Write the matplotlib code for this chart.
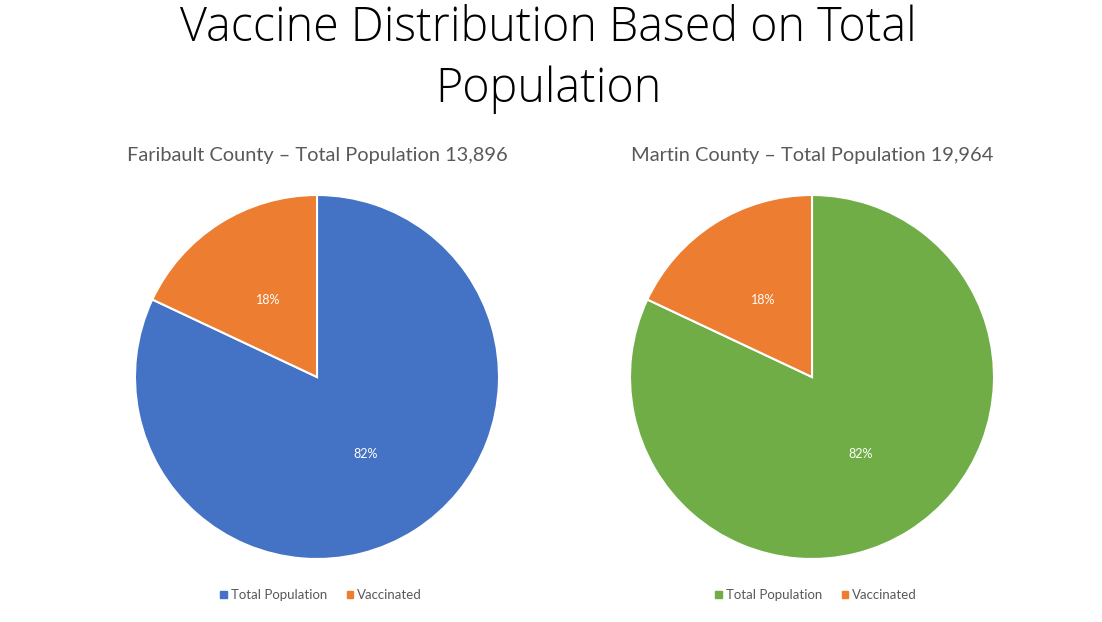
import matplotlib.pyplot as plt
from matplotlib.patches import Patch

plt.rcParams['font.family'] = ['Lato', 'DejaVu Sans']

labels = ['Total Population', 'Vaccinated']
counties = ['Faribault County – Total Population 13,896',
            'Martin County – Total Population 19,964']
faribault = [82, 18]
martin = [82, 18]
colors_left = ['#4472C4', '#ED7D31']
colors_right = ['#70AD47', '#ED7D31']

fig = plt.figure(figsize=(11.02, 6.22), dpi=100)
fig.text(0.498, 0.992, 'Vaccine Distribution Based on Total\nPopulation',
         ha='center', va='top', fontsize=33.6, fontweight='light',
         family=['Open Sans', 'DejaVu Sans'],
         linespacing=1.33, color='black')

W, H = 1102, 622
for cx, vals, cols, name in [(317, faribault, colors_left, counties[0]),
                             (812, martin, colors_right, counties[1])]:
    ax = fig.add_axes([(cx - 182) / W, (245 - 182) / H, 364 / W, 364 / H])
    ax.pie(vals, colors=cols, startangle=90, counterclock=False,
           autopct='%1.0f%%', pctdistance=0.5,
           wedgeprops=dict(edgecolor='white', linewidth=1.5),
           textprops=dict(color='white', fontsize=9))
    ax.set_xlim(-1.0, 1.0)
    ax.set_ylim(-1.0, 1.0)
    fig.text(cx / W, 1 - 155 / H, name, ha='center', va='center',
             fontsize=14.4, color='#595959')
    handles = [Patch(color=c, label=l) for c, l in zip(cols, labels)]
    fig.legend(handles=handles, loc='center', bbox_to_anchor=((cx + 4) / W, 1 - 595 / H),
               ncol=2, frameon=False, fontsize=9.5, handlelength=0.5,
               handleheight=0.5, handletextpad=0.3, columnspacing=1.5,
               labelcolor='#595959')

fig.savefig('out.png', dpi=100)
